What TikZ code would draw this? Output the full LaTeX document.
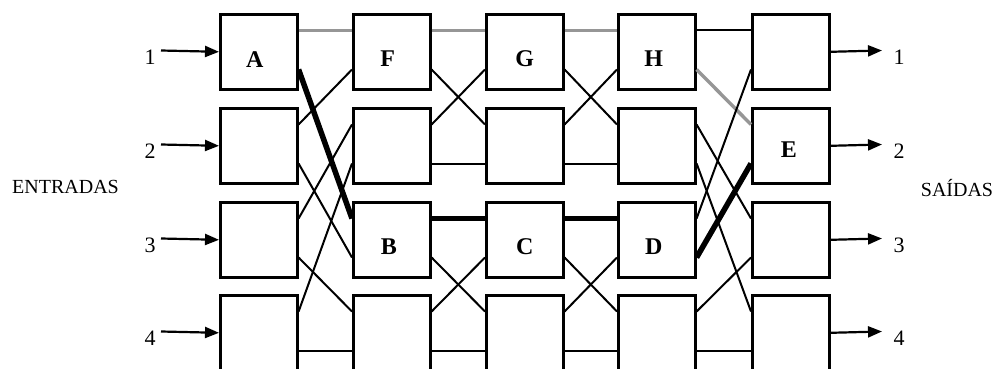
\documentclass[tikz,border=0pt]{standalone}
\usepackage{fontspec}
\setmainfont{Liberation Serif}
\usetikzlibrary{arrows.meta,calc}
\definecolor{pathgray}{RGB}{150,150,150}
\begin{document}
\begin{tikzpicture}[x=1pt,y=-1pt,
  box/.style={draw,line width=2.6pt,minimum width=77pt,minimum height=75pt,inner sep=0pt,anchor=north west},
  thin link/.style={line width=2pt},
  thick link/.style={line width=5.5pt},
  gray link/.style={line width=3.4pt,draw=pathgray},
  io arrow/.style={line width=2.2pt,-{Triangle[length=14pt,width=11pt]}},
  letter/.style={font=\fontsize{24}{28}\selectfont\bfseries,inner sep=0pt},
  num/.style={font=\fontsize{22}{26}\selectfont,inner sep=0pt},
  side/.style={font=\fontsize{20}{24}\selectfont,inner sep=0pt}
]
\useasboundingbox (0,0) rectangle (1001,369);

% boxes and their ports
\foreach \c/\x in {1/219,2/352,3/485,4/617,5/751}{
  \foreach \r/\y in {1/13,2/107,3/201,4/294}{
    \node[box] (b\c\r) at (\x,\y) {};
    \coordinate (b\c\r-ru) at ([yshift=-17.5pt]b\c\r.north east);
    \coordinate (b\c\r-rl) at ([yshift=-56.5pt]b\c\r.north east);
    \coordinate (b\c\r-lu) at ([yshift=-17.5pt]b\c\r.north west);
    \coordinate (b\c\r-ll) at ([yshift=-56.5pt]b\c\r.north west);
  }
}

% letters
\node[letter] (lA) at ([xshift=-4pt,yshift=-8pt]b11.center) {A};
\node[letter] (lF) at ([xshift=-4pt,yshift=-7pt]b21.center) {F};
\node[letter] (lG) at ([yshift=-7pt]b31.center) {G};
\node[letter] (lH) at ([xshift=-3pt,yshift=-7pt]b41.center) {H};
\node[letter] (lB) at ([xshift=-3pt,yshift=-7pt]b23.center) {B};
\node[letter] (lC) at ([yshift=-7pt]b33.center) {C};
\node[letter] (lD) at ([xshift=-3pt,yshift=-7pt]b43.center) {D};
\node[letter] (lE) at ([xshift=-2pt,yshift=-4pt]b52.center) {E};

% stage 1
\draw[gray link] (b11-ru) -- (b21-lu);
\draw[thin link] (b12-ru) -- (b21-ll);
\draw[thin link] (b12-rl) -- (b23-ll);
\draw[thin link] (b13-ru) -- (b22-lu);
\draw[thin link] (b13-rl) -- (b24-lu);
\draw[thin link] (b14-ru) -- (b22-ll);
\draw[thin link] (b14-rl) -- (b24-ll);
\draw[thick link] (b11-rl) -- (b23-lu);

% stage 2
\draw[gray link] (b21-ru) -- (b31-lu);
\draw[thin link] (b21-rl) -- (b32-lu);
\draw[thin link] (b22-ru) -- (b31-ll);
\draw[thin link] (b22-rl) -- (b32-ll);
\draw[thick link] (b23-ru) -- (b33-lu);
\draw[thin link] (b23-rl) -- (b34-lu);
\draw[thin link] (b24-ru) -- (b33-ll);
\draw[thin link] (b24-rl) -- (b34-ll);

% stage 3
\draw[gray link] (b31-ru) -- (b41-lu);
\draw[thin link] (b31-rl) -- (b42-lu);
\draw[thin link] (b32-ru) -- (b41-ll);
\draw[thin link] (b32-rl) -- (b42-ll);
\draw[thick link] (b33-ru) -- (b43-lu);
\draw[thin link] (b33-rl) -- (b44-lu);
\draw[thin link] (b34-ru) -- (b43-ll);
\draw[thin link] (b34-rl) -- (b44-ll);

% stage 4
\draw[thin link] (b41-ru) -- (b51-lu);
\draw[gray link] (b41-rl) -- (b52-lu);
\draw[thin link] (b43-ru) -- (b51-ll);
\draw[thin link] (b42-ru) -- (b53-lu);
\draw[thin link] (b42-rl) -- (b54-lu);
\draw[thin link] (b44-ru) -- (b53-ll);
\draw[thin link] (b44-rl) -- (b54-ll);
\draw[thick link] (b43-rl) -- (b52-ll);

% inputs and outputs
\foreach \r/\y in {1/50.5,2/144.5,3/238.5,4/331.5}{
  \coordinate (in\r) at (161,\y);
  \node[num] (ni\r) at (150,\y+7) {\r};
  \draw[io arrow] (in\r) -- (b1\r.west);
  \coordinate (out\r) at (882,\y);
  \node[num] (no\r) at (899,\y+7) {\r};
  \draw[io arrow] (b5\r.east) -- (out\r);
}

\node[side] (entradas) at (65.5,187) {ENTRADAS};
\node[side] (saidas) at (957,188) {SAÍDAS};
\end{tikzpicture}
\end{document}
